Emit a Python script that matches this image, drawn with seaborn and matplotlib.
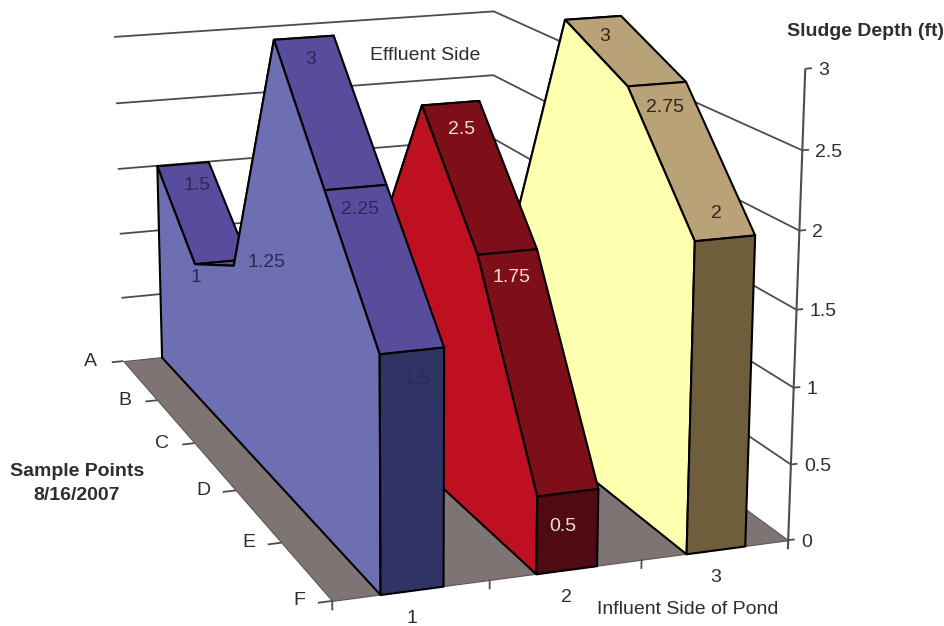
import matplotlib
matplotlib.use("Agg")
import matplotlib.pyplot as plt
import numpy as np
import seaborn as sns
from mpl_toolkits.mplot3d import proj3d
from mpl_toolkits.mplot3d.art3d import Line3DCollection, Poly3DCollection

WIDTH, HEIGHT = 945, 626

# Sludge depth (ft) per sample point along each pond section
sample_points = ["A", "B", "C", "D", "E", "F"]
section_names = ["1", "2", "3"]
depth_section_1 = [1.5, 1, 1.25, 3, 2.25, 1.5]
depth_section_2 = [0, 0, 1.2, 2.5, 1.75, 0.5]
depth_section_3 = [0, 0, 1.1, 3, 2.75, 2]
depth_ticks = [0, 0.5, 1, 1.5, 2, 2.5, 3]
grid_levels = [0.5, 1, 1.5, 2, 2.5]

# Which points carry a printed value, with the label nudge in pixels (right, down)
labels_section_1 = {0: (14, 22), 1: (-25, 16), 2: (5, 0), 3: (7, 22), 4: (5, 22), 5: (6, 29)}
labels_section_2 = {3: (11, 27), 4: (5, 26), 5: (-5, 34)}
labels_section_3 = {3: (12, 19), 4: (9, 24), 5: (-8, -24)}

RIBBON_START, RIBBON_END = 0.3, 0.7

# Oblique perspective camera: world (section, point, depth) to canvas pixels
CAMERA = np.array([
    [129.75631117, 27.15834893, -5.06528758, 123.32870549],
    [-8.08615062, 21.51123829, -130.11621277, 361.08694450],
    [0.0, 0.0, 0.01, 0.0],
    [0.01424323, -0.04401647, -0.01210923, 1.0],
])

sns.set_theme(style="white", font="Liberation Sans")
side_colours = sns.color_palette(["#6e6eb2", "#bd1020", "#ffffb0"])
top_colours = sns.color_palette(["#5a4c9c", "#7e0f18", "#b9a278"])
end_colours = sns.color_palette(["#2f3464", "#4f0a14", "#6e5e3c"])
label_colours = ["#2a2a58", "#f2dcd8", "#33241c"]
FLOOR_COLOUR = "#7e7473"
GRID_COLOUR = "#4d4d4d"
TEXT_COLOUR = "#2e2e2e"
FONT_SIZE = 14

fig = plt.figure(figsize=(WIDTH / 100, HEIGHT / 100), dpi=100, facecolor="white")
# 3D axes stay square, so let a square one overhang the canvas top and bottom
ax = fig.add_axes([0, (HEIGHT - WIDTH) / 2 / HEIGHT, 1, WIDTH / HEIGHT],
                  projection="3d", computed_zorder=False)
ax.set_axis_off()
ax.get_proj = lambda: CAMERA
ax.viewLim.intervalx = (0, WIDTH)
overhang = (WIDTH - HEIGHT) / 2
ax.viewLim.intervaly = (HEIGHT + overhang, -overhang)

order = [0]


def face(vertices, facecolor, edgecolor="black", linewidth=1.5):
    order[0] += 1
    patch = Poly3DCollection([vertices], facecolor=facecolor, edgecolor=edgecolor,
                             linewidth=linewidth, zorder=10 + order[0], joinstyle="round")
    ax.add_collection3d(patch)


def line(xs, ys, zs, lw=1.3, zorder=1):
    segment = Line3DCollection([list(zip(xs, ys, zs))], colors=GRID_COLOUR,
                               linewidths=lw, zorder=zorder)
    ax.add_collection3d(segment)


def label(x, y, z, text, dx, dy, colour=TEXT_COLOUR, ha="center"):
    u, v, _ = proj3d.proj_transform(x, y, z, CAMERA)
    ax.annotate(text, (u, v), xytext=(dx, -dy), textcoords="offset pixels",
                ha=ha, va="center", color=colour, fontsize=FONT_SIZE, zorder=500)


last = len(sample_points) - 1
n_sections = len(section_names)

# Walls carry only gridlines, wrapping from the back wall to the side wall
for level in grid_levels:
    line([0, n_sections, n_sections], [0, 0, last], [level, level, level])

face([(0, 0, 0), (n_sections, 0, 0), (n_sections, last, 0), (0, last, 0)],
     FLOOR_COLOUR, edgecolor="#5c5555", linewidth=0.8)

# Nearer ribbons are painted over the farther ones
depths = [depth_section_1, depth_section_2, depth_section_3]
label_sets = [labels_section_1, labels_section_2, labels_section_3]
for i in reversed(range(n_sections)):
    x0, x1 = i + RIBBON_START, i + RIBBON_END
    values = depths[i]
    for k in range(last):
        if values[k] == 0 and values[k + 1] == 0:
            continue
        face([(x0, k, values[k]), (x1, k, values[k]),
              (x1, k + 1, values[k + 1]), (x0, k + 1, values[k + 1])], top_colours[i])
    outline = [(x0, 0, 0)] + [(x0, k, v) for k, v in enumerate(values)] + [(x0, last, 0)]
    face(outline, side_colours[i])
    face([(x0, last, 0), (x0, last, values[last]), (x1, last, values[last]), (x1, last, 0)],
         end_colours[i])

# Value axis on the front right corner
line([n_sections] * 2, [last] * 2, [-0.06, depth_ticks[-1]], lw=1.5, zorder=200)
for tick in depth_ticks:
    line([n_sections, n_sections + 0.045], [last, last], [tick, tick], zorder=200)
    label(n_sections, last, tick, f"{tick:g}", 13, 2, ha="left")

# Sample point axis along the left floor edge
for k, name in enumerate(sample_points):
    line([-0.09, 0], [k, k], [0, 0], zorder=200)
    label(0, k, 0, name, -33, 0)

# Section axis along the front floor edge, ticks hanging straight down
for i in range(n_sections):
    line([i, i], [last, last], [0, -0.06], zorder=200)
for i, name in enumerate(section_names):
    label(i + 0.5, last, 0, name, 0, 28)

# Printed values sit on top of everything
for i in range(n_sections):
    for k, (dx, dy) in label_sets[i].items():
        value = depths[i][k]
        label(i + 0.5, k, value, f"{value:g}", dx, dy, colour=label_colours[i])


def caption(px, py, text, **kwargs):
    fig.text(px / WIDTH, 1 - py / HEIGHT, text, color=TEXT_COLOUR, fontsize=FONT_SIZE,
             va="center", **kwargs)


caption(787, 31, "Sludge Depth (ft)", fontweight="bold")
caption(370, 55, "Effluent Side")
caption(597, 610, "Influent Side of Pond")
caption(77, 471, "Sample Points", fontweight="bold", ha="center")
caption(77, 496, "8/16/2007", fontweight="bold", ha="center")

fig.savefig("out.png", dpi=100)
